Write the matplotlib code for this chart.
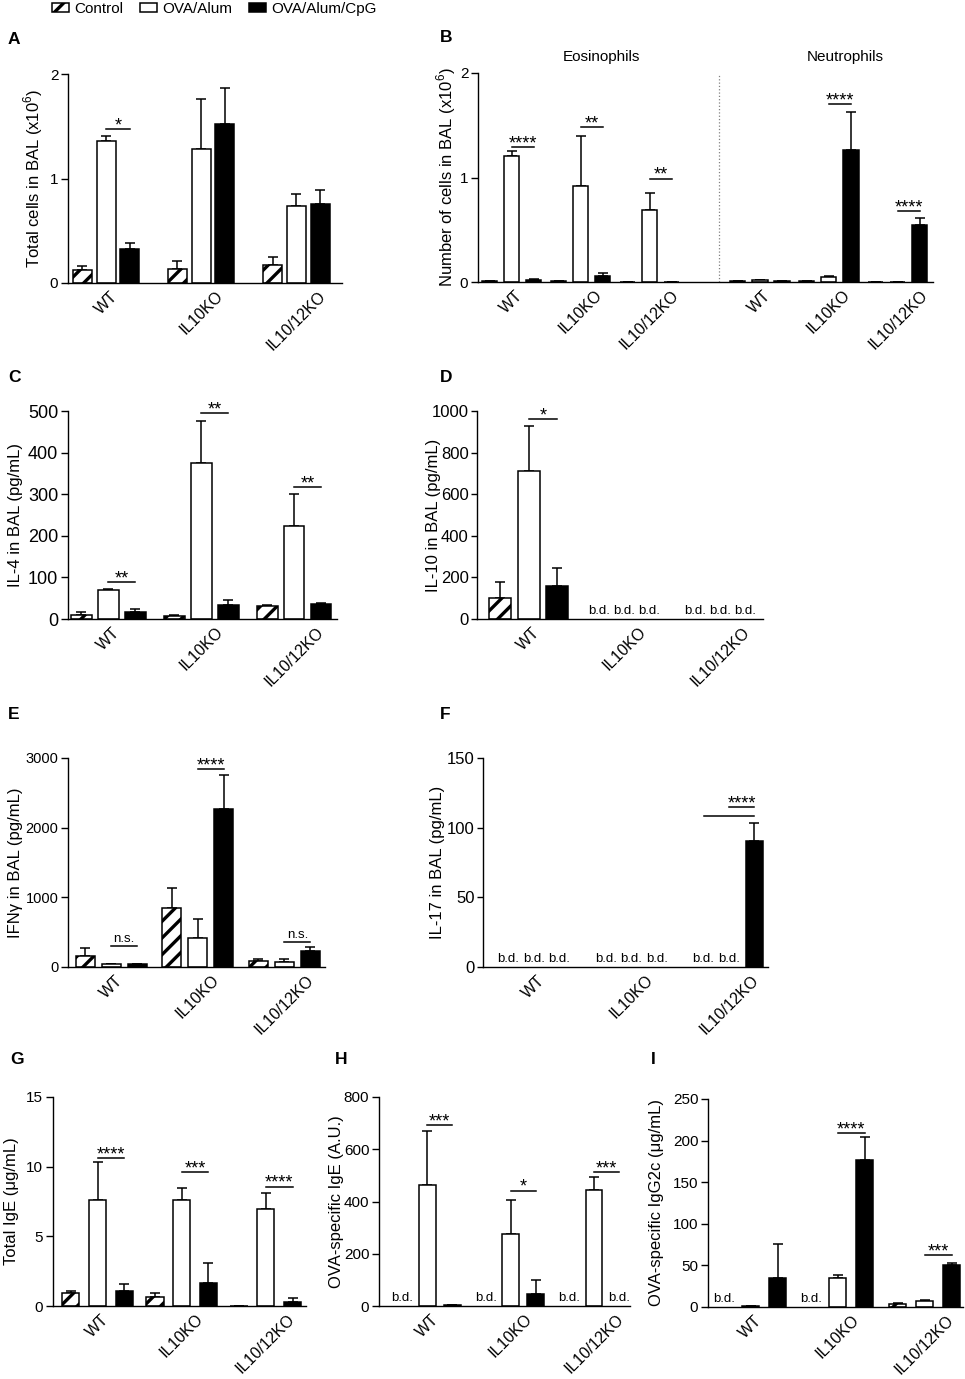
import numpy as np
import matplotlib
matplotlib.use("Agg")
import matplotlib.pyplot as plt
from matplotlib.patches import Patch
from matplotlib.transforms import offset_copy

plt.rcParams["font.family"] = ["Liberation Sans", "DejaVu Sans"]
plt.rcParams["mathtext.fontset"] = "custom"
plt.rcParams["mathtext.rm"] = "Liberation Sans"
plt.rcParams["hatch.linewidth"] = 2.4
plt.rcParams["axes.linewidth"] = 1.0

W, H = 965, 1379

groups = ["WT", "IL10KO", "IL10/12KO"]
series = ["Control", "OVA/Alum", "OVA/Alum/CpG"]

# values: rows = Control, OVA/Alum, OVA/Alum/CpG ; None = b.d.
A_mean = [[0.12, 0.13, 0.17], [1.36, 1.28, 0.74], [0.33, 1.52, 0.76]]
A_sem = [[0.04, 0.08, 0.08], [0.05, 0.48, 0.11], [0.05, 0.35, 0.13]]
A_sig = [(0, 1, 2, 1.47, "*")]

# B: Eosinophils WT, IL10KO, IL10/12KO then Neutrophils WT, IL10KO, IL10/12KO
B_mean = [[0.005, 0.01, 0, 0.005, 0.005, 0],
          [1.21, 0.92, 0.69, 0.015, 0.045, 0],
          [0.02, 0.06, 0, 0.01, 1.26, 0.55]]
B_sem = [[0.003, 0.003, 0, 0.003, 0.003, 0],
         [0.04, 0.48, 0.16, 0.005, 0.015, 0],
         [0.005, 0.03, 0, 0.003, 0.37, 0.06]]
B_sig = [(0, 1, 2, 1.29, "****"), (1, 1, 2, 1.48, "**"), (2, 1, 2, 0.99, "**"),
         (4, 1, 2, 1.70, "****"), (5, 1, 2, 0.68, "****")]

C_mean = [[10, 8, 32], [70, 374, 224], [16, 33, 37]]
C_sem = [[8, 2, 1], [1, 101, 76], [8, 13, 2]]
C_sig = [(0, 1, 2, 88, "**"), (1, 1, 2, 496, "**"), (2, 1, 2, 318, "**")]

D_mean = [[100, None, None], [711, None, None], [161, None, None]]
D_sem = [[79, 0, 0], [217, 0, 0], [85, 0, 0]]
D_sig = [(0, 1, 2, 960, "*")]

E_mean = [[158, 840, 86], [38, 418, 77], [48, 2266, 230]]
E_sem = [[111, 288, 29], [0, 278, 43], [0, 484, 58]]
E_sig = [(0, 1, 2, 302, "n.s."), (1, 1, 2, 2842, "****"), (2, 1, 2, 360, "n.s.")]

F_mean = [[None, None, None], [None, None, None], [None, None, 90.5]]
F_sem = [[0, 0, 0], [0, 0, 0], [0, 0, 13.2]]
F_sig = [(2, 0, 2, 108.7, ""), (2, 1, 2, 115, "****")]

G_mean = [[0.94, 0.67, 0], [7.61, 7.63, 6.96], [1.08, 1.63, 0.31]]
G_sem = [[0.14, 0.29, 0], [2.74, 0.87, 1.18], [0.53, 1.47, 0.27]]
G_sig = [(0, 1, 2, 10.6, "****"), (1, 1, 2, 9.6, "***"), (2, 1, 2, 8.57, "****")]

H_mean = [[None, None, None], [463, 274, 444], [4, 45, None]]
H_sem = [[0, 0, 0], [208, 130, 49], [0, 56, 0]]
H_sig = [(0, 1, 2, 691, "***"), (1, 1, 2, 442, "*"), (2, 1, 2, 513, "***")]

I_mean = [[None, None, 3.2], [1, 35, 6.8], [35, 177, 51]]
I_sem = [[0, 0, 1.2], [0, 4, 1.2], [41, 27, 2]]
I_sig = [(1, 1, 2, 209.5, "****"), (2, 1, 2, 62, "***")]

faces = ["white", "white", "black"]
hatches = ["//", None, None]

fig = plt.figure(figsize=(W / 100, H / 100), dpi=100)


def make_ax(l, t, r, b):
    return fig.add_axes([l / W, 1 - b / H, (r - l) / W, (b - t) / H])


def panel(box, mean, sem, sig, pos, off, width, xlim, ymax, yticks, ylabel,
          label_x, ticksize=10.5, xlabels=groups, bd_off=None, ticklen=5):
    ax = make_ax(*box)
    pos = np.asarray(pos, dtype=float)
    if bd_off is None:
        bd_off = off
    for k in range(3):
        x = pos + (k - 1) * off
        h = np.array([np.nan if v is None else v for v in mean[k]], dtype=float)
        e = np.array(sem[k], dtype=float)
        show = ~np.isnan(h)
        ax.errorbar(x[show], h[show], yerr=[np.zeros(show.sum()), e[show]],
                    fmt="none", ecolor="black", elinewidth=1.1, capsize=3.5,
                    capthick=1.1, zorder=1, clip_on=False)
        ax.bar(x[show], h[show], width, color=faces[k], edgecolor="black",
               hatch=hatches[k], linewidth=1.1, zorder=2)
        for p, hi in zip(pos, h):
            if np.isnan(hi):
                ax.text(p + (k - 1) * bd_off, 0, "b.d.", ha="center", va="bottom", fontsize=9.5,
                        transform=offset_copy(ax.transData, fig, 0, 1.5, units="points"))
    for g, s0, s1, y, lab in sig:
        x0 = pos[g] + (s0 - 1) * off
        x1 = pos[g] + (s1 - 1) * off
        ax.plot([x0, x1], [y, y], color="black", lw=1.1, clip_on=False)
        if lab == "n.s.":
            ax.text((x0 + x1) / 2, y, lab, ha="center", va="bottom", fontsize=9.5,
                    transform=offset_copy(ax.transData, fig, 0, 1, units="points"))
        elif lab:
            ax.text((x0 + x1) / 2, y, lab, ha="center", va="baseline", fontsize=13,
                    transform=offset_copy(ax.transData, fig, 0, -1.0, units="points"))
    ax.set_xlim(*xlim)
    ax.set_ylim(0, ymax)
    ax.set_yticks(yticks)
    ax.tick_params(axis="y", direction="out", length=ticklen, width=1, labelsize=ticksize, pad=2)
    ax.set_xticks(pos)
    ax.set_xticklabels(xlabels, rotation=45, fontsize=11.5)
    ax.tick_params(axis="x", length=0, pad=4)
    for sp in ["top", "right"]:
        ax.spines[sp].set_visible(False)
    ax.spines["left"].set_bounds(0, ymax)
    ax.set_ylabel(ylabel, fontsize=12)
    l, t, r, b = box
    # label position is the right edge of the rotated text
    ax.yaxis.set_label_coords((label_x + 8 - l) / (r - l), 0.5)
    return ax


panel((68, 74, 342, 283), A_mean, A_sem, A_sig, [0, 1, 2], 0.25, 0.20,
      (-0.40, 2.48), 2, [0, 1, 2], "Total cells in BAL (x10$^6$)", 37, ticksize=11)

axB = panel((478, 73, 933, 282), B_mean, B_sem, B_sig, [0, 1, 2, 3.6, 4.6, 5.6], 0.32, 0.22,
            (-0.49, 6.11), 2, [0, 1, 2], "Number of cells in BAL (x10$^6$)", 450,
            ticksize=11, xlabels=groups + groups)
axB.plot([3.0, 3.0], [0, 1.98], color="gray", lw=0.9, ls=":", zorder=0)
fig.text(601 / W, 1 - 57 / H, "Eosinophils", ha="center", va="center", fontsize=11)
fig.text(845 / W, 1 - 57 / H, "Neutrophils", ha="center", va="center", fontsize=11)

panel((68, 411, 337, 619), C_mean, C_sem, C_sig, [0, 1, 2], 0.29, 0.22,
      (-0.435, 2.46), 500, [0, 100, 200, 300, 400, 500], "IL-4 in BAL (pg/mL)", 15, ticksize=13)

panel((477, 411, 763, 619), D_mean, D_sem, D_sig, [0, 1, 2], 0.30, 0.23,
      (-0.54, 2.45), 1000, [0, 200, 400, 600, 800, 1000], "IL-10 in BAL (pg/mL)", 433,
      ticksize=12, bd_off=0.26, ticklen=4)

panel((68, 758, 325, 967), E_mean, E_sem, E_sig, [0, 1, 2], 0.30, 0.22,
      (-0.50, 2.47), 3000, [0, 1000, 2000, 3000], "IFNγ in BAL (pg/mL)", 15, ticksize=10.5)

panel((483, 758, 768, 967), F_mean, F_sem, F_sig, [0, 1, 2], 0.26, 0.17,
      (-0.52, 2.40), 150, [0, 50, 100, 150], "IL-17 in BAL (pg/mL)", 437,
      ticksize=12, ticklen=4)

panel((53, 1097, 306, 1306), G_mean, G_sem, G_sig, [0, 1, 2], 0.32, 0.21,
      (-0.53, 2.48), 15, [0, 5, 10, 15], "Total IgE (μg/mL)", 11, ticksize=11)

panel((379, 1097, 630, 1306), H_mean, H_sem, H_sig, [0, 1, 2], 0.30, 0.20,
      (-0.58, 2.43), 800, [0, 200, 400, 600, 800], "OVA-specific IgE (A.U.)", 336, ticksize=11)

panel((708, 1099, 963, 1307), I_mean, I_sem, I_sig, [0, 1, 2], 0.31, 0.20,
      (-0.49, 2.44), 250, [0, 50, 100, 150, 200, 250], "OVA-specific IgG2c (μg/mL)", 656, ticksize=11)

for lab, x, y in [("A", 8, 39), ("B", 440, 37), ("C", 8, 377), ("D", 440, 377),
                  ("E", 8, 715), ("F", 440, 715), ("G", 10, 1060), ("H", 335, 1060),
                  ("I", 651, 1060)]:
    fig.text(x / W, 1 - y / H, lab, ha="left", va="center", fontsize=12.5, fontweight="bold")

handles = [Patch(facecolor=faces[k], edgecolor="black", hatch=hatches[k], linewidth=1.1)
           for k in range(3)]
fig.legend(handles, series, loc="upper left", bbox_to_anchor=(52 / W, 1 - 2 / H), ncol=3,
           frameon=False, fontsize=11, handlelength=1.1, handleheight=0.6,
           handletextpad=0.35, columnspacing=1.1, borderpad=0, borderaxespad=0)

fig.savefig("out.png", dpi=100)
